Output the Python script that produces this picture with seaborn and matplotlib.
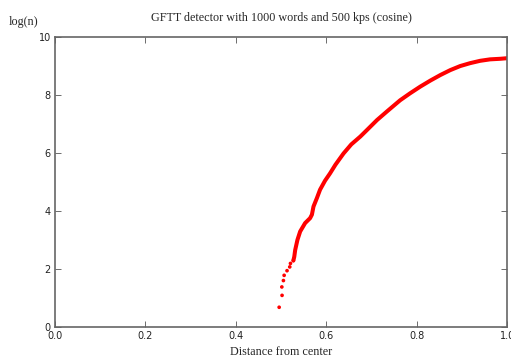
import matplotlib
matplotlib.use("Agg")
import matplotlib.pyplot as plt
import seaborn as sns
import pandas as pd

# Discrete points at the start of the curve (distance, log(n))
start_dist = [0.4956, 0.502, 0.5015, 0.505, 0.5066, 0.513, 0.519, 0.5206, 0.527]
start_logn = [0.69, 1.10, 1.39, 1.61, 1.79, 1.95, 2.08, 2.20, 2.30]

# Dense part of the curve (distance, log(n))
curve_dist = [0.527, 0.529, 0.531, 0.536, 0.542, 0.553, 0.564, 0.568, 0.5715, 0.579,
              0.586, 0.597, 0.608, 0.62, 0.638, 0.655, 0.675, 0.69, 0.712, 0.735,
              0.763, 0.785, 0.8075, 0.83, 0.852, 0.874, 0.896, 0.918, 0.940, 0.962,
              0.985, 1.0]
curve_logn = [2.30, 2.43, 2.66, 3.01, 3.30, 3.59, 3.76, 3.88, 4.16, 4.45,
              4.74, 5.05, 5.30, 5.60, 5.99, 6.30, 6.57, 6.80, 7.14, 7.45,
              7.82, 8.06, 8.29, 8.50, 8.69, 8.86, 9.00, 9.10, 9.18, 9.23,
              9.25, 9.27]

x_ticks = [0.0, 0.2, 0.4, 0.6, 0.8, 1.0]
y_ticks = [0, 2, 4, 6, 8, 10]

title = "GFTT detector with 1000 words and 500 kps (cosine)"
xlabel = "Distance from center"
ylabel = "log(n)"

sns.set_style("ticks", {"xtick.direction": "in", "ytick.direction": "in"})
plt.rcParams["font.family"] = ["DejaVu Sans"]

W, H = 511, 358
fig = plt.figure(figsize=(W / 100, H / 100), dpi=100)
L, R, T, B = 55, 507.3, 37, 327.3
ax = fig.add_axes([L / W, 1 - B / H, (R - L) / W, (B - T) / H])

df_start = pd.DataFrame({"d": start_dist, "l": start_logn})
df_curve = pd.DataFrame({"d": curve_dist, "l": curve_logn})

sns.lineplot(data=df_curve, x="d", y="l", ax=ax, color="#ff0000", linewidth=2.9,
             sort=False, solid_capstyle="round", solid_joinstyle="round")
sns.scatterplot(data=df_start, x="d", y="l", ax=ax, color="#ff0000", s=7,
                edgecolor="none", linewidth=0)

ax.set_xlim(0, 1)
ax.set_ylim(0, 10)
ax.set_xticks(x_ticks)
ax.set_yticks(y_ticks)
ax.set_xticklabels([f"{v:.1f}" for v in x_ticks])
ax.set_yticklabels([str(v) for v in y_ticks])
ax.tick_params(axis="both", which="both", direction="in", length=4, width=0.6,
               labelsize=7, pad=3, top=True, right=True, color="#555555",
               labelcolor="#222222")
for s in ax.spines.values():
    s.set_visible(True)
    s.set_color("#666666")
    s.set_linewidth(1.2)

serif = ["Liberation Serif", "DejaVu Serif"]
ax.set_title(title, family=serif, fontsize=8.7, y=(B - 18) / (B - T), pad=0, va="center")
ax.set_xlabel(xlabel, family=serif, fontsize=8.7, va="center")
ax.xaxis.set_label_coords(0.5, (B - 352) / (B - T))
ax.set_ylabel(ylabel, family=serif, fontsize=8.7, rotation=0, ha="center", va="center")
ax.yaxis.set_label_coords((24 - L) / (R - L), (B - 22) / (B - T))

fig.savefig("out.png", dpi=100)
